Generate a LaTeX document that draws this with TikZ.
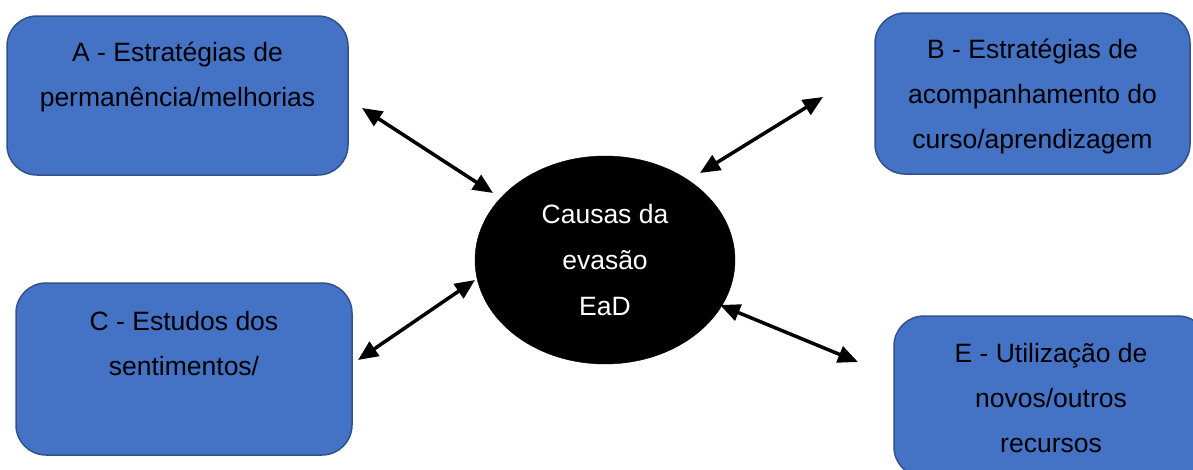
\documentclass[tikz,border=0pt]{standalone}
\usepackage{fontspec}
\setmainfont{Liberation Sans}
\usetikzlibrary{arrows.meta,shapes.geometric}
\definecolor{boxfill}{HTML}{4472C4}
\definecolor{boxline}{HTML}{2F528F}
\tikzset{
  themebox/.style={draw=boxline, fill=boxfill, line width=1.5pt,
    rounded corners=30pt, inner sep=0pt},
  % anchored at the baseline of the last line
  boxtext/.style={align=center, anchor=base, inner sep=0pt,
    font=\fontsize{26.5}{45}\selectfont},
  hub/.style={ellipse, draw=black, fill=black, inner sep=0pt,
    minimum width=260pt, minimum height=208pt, text=white, align=center,
    font=\fontsize{26.5}{46}\selectfont},
  link/.style={line width=3.5pt, {Triangle[length=20pt,width=17pt]}-{Triangle[length=20pt,width=17pt]}}
}
\begin{document}
\begin{tikzpicture}[x=1pt, y=-1pt]
  \useasboundingbox (0,0) rectangle (1193,469);

  % category boxes
  \node[themebox, minimum width=341pt, minimum height=159pt] (boxA) at (177.5,95.5) {};
  \node[themebox, minimum width=315pt, minimum height=161pt] (boxB) at (1032.5,93.5) {};
  \node[themebox, minimum width=336pt, minimum height=172pt] (boxC) at (184,369) {};
  \node[themebox, minimum width=314pt, minimum height=161pt] (boxE) at (1051,396.5) {};

  % box texts
  \node[boxtext] (txtA) at (177.5,106) {A - Estratégias de\\permanência/melhorias};
  \node[boxtext] (txtB) at (1032.5,148) {B - Estratégias de\\acompanhamento do\\curso/aprendizagem};
  \node[boxtext] (txtC) at (184,375) {C - Estudos dos\\sentimentos/};
  \node[boxtext] (txtE) at (1051,452) {E - Utilização de\\novos/outros\\recursos};

  % central topic
  \node[hub] (hub) at (605,260) {Causas da\\evasão\\EaD};

  % arrow end points
  \coordinate (aOut) at (362,108);
  \coordinate (aIn)  at (493,193);
  \coordinate (bOut) at (823,97);
  \coordinate (bIn)  at (700,173);
  \coordinate (cOut) at (358,360);
  \coordinate (cIn)  at (475,280);
  \coordinate (eOut) at (858,362);
  \coordinate (eIn)  at (720,305);

  \draw[link] (aOut) -- (aIn);
  \draw[link] (bIn) -- (bOut);
  \draw[link] (cOut) -- (cIn);
  \draw[link] (eIn) -- (eOut);
\end{tikzpicture}
\end{document}
